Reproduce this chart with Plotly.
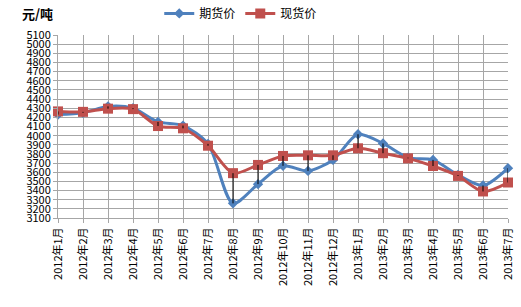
import plotly.graph_objects as go

months = ["2012年1月", "2012年2月", "2012年3月", "2012年4月", "2012年5月", "2012年6月",
          "2012年7月", "2012年8月", "2012年9月", "2012年10月", "2012年11月", "2012年12月",
          "2013年1月", "2013年2月", "2013年3月", "2013年4月", "2013年5月", "2013年6月", "2013年7月"]
futures = [4230, 4250, 4320, 4300, 4150, 4110, 3910, 3260, 3470, 3670, 3615, 3735,
           4015, 3915, 3760, 3735, 3570, 3455, 3645]
spot = [4265, 4260, 4295, 4290, 4105, 4080, 3890, 3590, 3680, 3778, 3785, 3785,
        3862, 3808, 3752, 3668, 3560, 3390, 3488]
yticks = list(range(3100, 5101, 100))

BLUE = "#4F81BD"
RED = "#C0504D"
FONT = "Noto Sans CJK SC"

hl_x, hl_y = [], []
for m, a, b in zip(months, futures, spot):
    hl_x += [m, m, None]
    hl_y += [a, b, None]

fig = go.Figure()
fig.add_trace(go.Scatter(x=months, y=futures, name="期货价", mode="lines+markers",
                         line=dict(color=BLUE, width=3, shape="spline", smoothing=0.8),
                         marker=dict(symbol="diamond", size=8, color=BLUE),
                         cliponaxis=False))
fig.add_trace(go.Scatter(x=months, y=spot, name="现货价", mode="lines+markers",
                         line=dict(color=RED, width=3, shape="spline", smoothing=0.8),
                         marker=dict(symbol="square", size=10, color=RED),
                         cliponaxis=False))
fig.add_trace(go.Scatter(x=hl_x, y=hl_y, mode="lines", showlegend=False,
                         line=dict(color="black", width=1), hoverinfo="skip",
                         cliponaxis=False))

fig.update_layout(
    width=521, height=307,
    margin=dict(l=58, r=13, t=35, b=89, autoexpand=False),
    paper_bgcolor="white", plot_bgcolor="white",
    font=dict(family=FONT, size=11, color="black"),
    showlegend=True,
    legend=dict(orientation="h", x=0.225, y=1.118, xanchor="left", yanchor="middle",
                font=dict(size=12), itemwidth=30, traceorder="normal",
                bgcolor="rgba(0,0,0,0)"),
    annotations=[dict(text="<b>元/吨</b>", x=-0.085, y=1.118, xref="paper", yref="paper",
                      xanchor="left", yanchor="middle",
                      showarrow=False, font=dict(size=13, family=FONT))],
)

fig.update_xaxes(type="category", range=[0, len(months) - 1], tickangle=-90,
                 showgrid=True, gridcolor="#A6A6A6", gridwidth=1,
                 showline=True, linecolor="#A6A6A6", ticks="outside", ticklen=4,
                 tickcolor="#A6A6A6", tickfont=dict(size=11), mirror=False,
                 automargin=False)
fig.update_yaxes(range=[3100, 5100], tickvals=yticks, ticktext=[str(v) for v in yticks],
                 showgrid=True, gridcolor="#A6A6A6", gridwidth=1,
                 showline=True, linecolor="#A6A6A6", ticks="outside", ticklen=4,
                 tickcolor="#A6A6A6", tickfont=dict(size=11), zeroline=False,
                 automargin=False)

fig.write_html("out.html")
